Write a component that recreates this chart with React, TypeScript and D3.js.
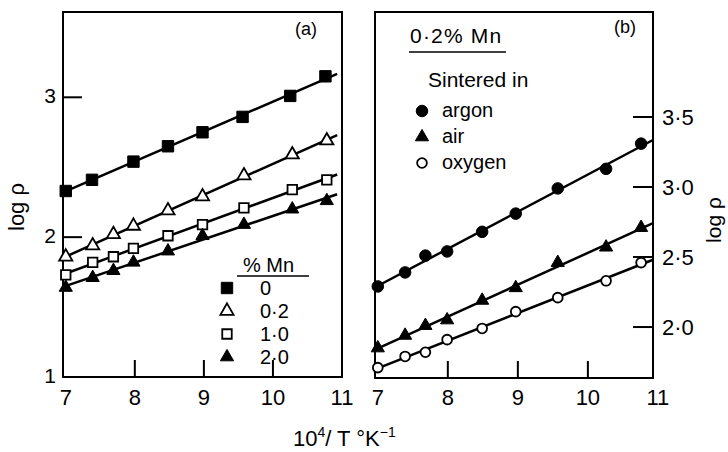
import React from 'react';
import * as d3 from 'd3';

const width = 728;
const height = 452;
const font = '"Liberation Sans", Arial, sans-serif';

// panel (a): log rho against 10^4/T for several Mn contents
const mnLabels = ['0', '0·2', '1·0', '2·0'];
const mn0X = [7.0, 7.38, 7.98, 8.48, 8.98, 9.56, 10.25, 10.76];
const mn0Y = [2.33, 2.41, 2.54, 2.65, 2.75, 2.86, 3.01, 3.15];
const mnX = [7.0, 7.39, 7.69, 7.98, 8.48, 8.98, 9.58, 10.28, 10.78];
const mn02Y = [1.86, 1.94, 2.02, 2.08, 2.19, 2.29, 2.44, 2.59, 2.69];
const mn10Y = [1.73, 1.82, 1.86, 1.92, 2.01, 2.09, 2.21, 2.34, 2.41];
const mn20Y = [1.64, 1.71, 1.76, 1.82, 1.90, 2.01, 2.09, 2.20, 2.26];

// panel (b): 0.2% Mn sintered in different atmospheres
const atmLabels = ['argon', 'air', 'oxygen'];
const atmX = [7.0, 7.39, 7.68, 7.99, 8.49, 8.97, 9.57, 10.26, 10.76];
const argonY = [2.29, 2.39, 2.51, 2.54, 2.68, 2.81, 2.99, 3.13, 3.31];
const airY = [1.85, 1.94, 2.01, 2.05, 2.19, 2.28, 2.46, 2.57, 2.71];
const oxygenY = [1.71, 1.79, 1.82, 1.91, 1.99, 2.11, 2.21, 2.33, 2.46];

const xTicks = [7, 8, 9, 10, 11];
const aYTicks = [1, 2, 3];
const bYTicks = [2.0, 2.5, 3.0, 3.5];
const fmtB = (v: number) => v.toFixed(1).replace('.', '·');

type Mark = 'fsquare' | 'osquare' | 'ftri' | 'otri' | 'fcircle' | 'ocircle';

const symbolPath = (m: Mark) => {
  if (m === 'fsquare') return d3.symbol(d3.symbolSquare, 130)()!;
  if (m === 'osquare') return d3.symbol(d3.symbolSquare, 90)()!;
  if (m === 'ftri' || m === 'otri') return d3.symbol(d3.symbolTriangle, 75)()!;
  if (m === 'fcircle') return d3.symbol(d3.symbolCircle, 105)()!;
  return d3.symbol(d3.symbolCircle, 75)()!;
};

const Marker = ({ x, y, m }: { x: number; y: number; m: Mark }) => {
  const open = m[0] === 'o';
  return (
    <path
      d={symbolPath(m)}
      transform={`translate(${x},${y})`}
      fill={open ? '#fff' : '#000'}
      stroke="#000"
      strokeWidth={open ? 1.8 : 1}
    />
  );
};

// least squares line through a series
function fit(xs: number[], ys: number[]) {
  const mx = d3.mean(xs)!;
  const my = d3.mean(ys)!;
  const b = d3.sum(xs, (x, i) => (x - mx) * (ys[i] - my)) / d3.sum(xs, x => (x - mx) ** 2);
  return (x: number) => my + b * (x - mx);
}

type Series = { xs: number[]; ys: number[]; m: Mark };

function Panel({ x, y, series, lineX }: {
  x: d3.ScaleLinear<number, number>; y: d3.ScaleLinear<number, number>;
  series: Series[]; lineX: number[];
}) {
  const [x0, x1] = x.range();
  const [y0, y1] = y.range();
  const line = d3.line<[number, number]>().x(d => x(d[0])).y(d => y(d[1]));
  return (
    <g>
      <rect x={x0} y={y1} width={x1 - x0} height={y0 - y1} fill="none" stroke="#000" strokeWidth={2} />
      {[8, 9, 10].map(t => (
        <line key={t} x1={x(t)} x2={x(t)} y1={y0} y2={y0 - 17} stroke="#000" strokeWidth={2} />
      ))}
      {xTicks.map(t => (
        <text key={t} x={x(t)} y={405} textAnchor="middle" fontSize={22}>{t}</text>
      ))}
      {series.map((s, i) => {
        const f = fit(s.xs, s.ys);
        return <path key={i} d={line(lineX.map(v => [v, f(v)]))!} fill="none" stroke="#000" strokeWidth={2.5} />;
      })}
      {series.map((s, i) => s.xs.map((v, j) => (
        <Marker key={`${i}-${j}`} x={x(v)} y={y(s.ys[j])} m={s.m} />
      )))}
    </g>
  );
}

export default function App() {
  const xa = d3.scaleLinear([6.96, 11.0], [63, 342]);
  const ya = d3.scaleLinear([1, 3.61], [377, 12]);
  const xb = d3.scaleLinear([6.96, 10.93], [375, 653]);
  const yb = d3.scaleLinear([1.636, 4.25], [378, 12]);
  const lineX = [6.97, 10.93];

  const aSeries: Series[] = [
    { xs: mn0X, ys: mn0Y, m: 'fsquare' },
    { xs: mnX, ys: mn02Y, m: 'otri' },
    { xs: mnX, ys: mn10Y, m: 'osquare' },
    { xs: mnX, ys: mn20Y, m: 'ftri' },
  ];
  const bSeries: Series[] = [
    { xs: atmX, ys: argonY, m: 'fcircle' },
    { xs: atmX, ys: airY, m: 'ftri' },
    { xs: atmX, ys: oxygenY, m: 'ocircle' },
  ];
  const aMarks: Mark[] = ['fsquare', 'otri', 'osquare', 'ftri'];
  const bMarks: Mark[] = ['fcircle', 'ftri', 'ocircle'];

  return (
    <svg width={width} height={height} style={{ position: 'absolute', left: 0, top: 0, background: '#fff' }}
      fontFamily={font} fill="#000">
      <Panel x={xa} y={ya} series={aSeries} lineX={lineX} />
      <Panel x={xb} y={yb} series={bSeries} lineX={lineX} />

      {/* panel (a) y axis, ticks inside on the left */}
      {[2, 3].map(t => (
        <line key={t} x1={63} x2={82} y1={ya(t)} y2={ya(t)} stroke="#000" strokeWidth={2} />
      ))}
      {aYTicks.map(t => (
        <text key={t} x={56} y={ya(t) - 2} textAnchor="end" dominantBaseline="central" fontSize={21}>{t}</text>
      ))}

      {/* panel (b) y axis on the right */}
      {bYTicks.map(t => (
        <g key={t}>
          <line x1={653} x2={633} y1={yb(t)} y2={yb(t)} stroke="#000" strokeWidth={2} />
          <text x={662} y={yb(t)} dominantBaseline="central" fontSize={22}>{fmtB(t)}</text>
        </g>
      ))}

      <text transform="translate(16,207) rotate(-90)" textAnchor="middle" dominantBaseline="central" fontSize={22}>log ρ</text>
      <text transform="translate(713,220) rotate(-90)" textAnchor="middle" dominantBaseline="central" fontSize={21}>log ρ</text>

      <text x={293} y={446} fontSize={22}>
        10<tspan dy={-9} fontSize={14}>4</tspan><tspan dy={9}>/ T °K</tspan><tspan dy={-9} fontSize={14}>−1</tspan>
      </text>

      <text x={306} y={35} textAnchor="middle" fontSize={18}>(a)</text>
      <text x={625} y={33} textAnchor="middle" fontSize={18}>(b)</text>

      {/* legend (a) */}
      <text x={243} y={272} fontSize={20}>% Mn</text>
      <line x1={237} x2={309} y1={276} y2={276} stroke="#000" strokeWidth={1.5} />
      {mnLabels.map((l, i) => (
        <g key={l}>
          <Marker x={227} y={288 + i * 23} m={aMarks[i]} />
          <text x={260} y={288 + i * 23 + 7} fontSize={20}>{l}</text>
        </g>
      ))}

      {/* legend (b) */}
      <text x={410} y={43} fontSize={21} letterSpacing={1.2}>0·2% Mn</text>
      <line x1={409} x2={506} y1={52} y2={52} stroke="#000" strokeWidth={1.5} />
      <text x={428} y={87} fontSize={21}>Sintered in</text>
      {atmLabels.map((l, i) => (
        <g key={l}>
          <Marker x={422} y={111 + i * 26} m={bMarks[i]} />
          <text x={442} y={111 + i * 26 + 6} fontSize={20}>{l}</text>
        </g>
      ))}
    </svg>
  );
}
